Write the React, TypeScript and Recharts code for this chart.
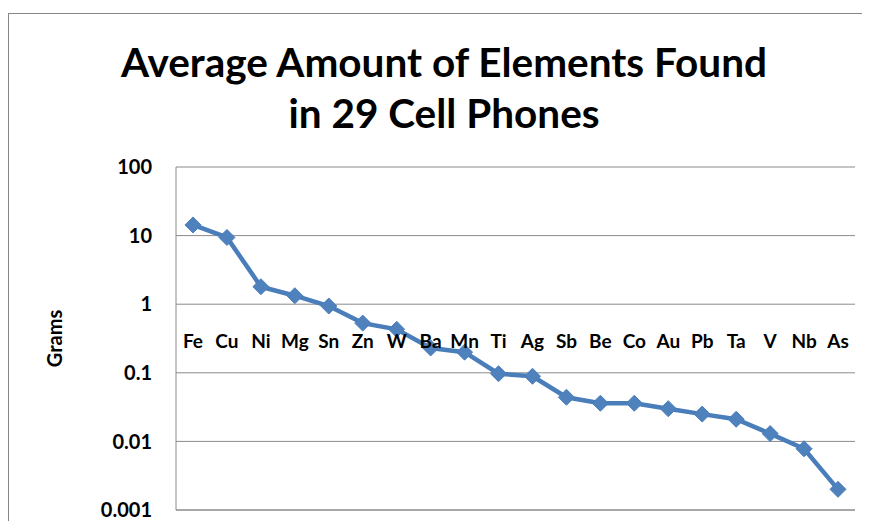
import React from 'react';
import { LineChart, Line, XAxis, YAxis, CartesianGrid } from 'recharts';

const elements = ['Fe', 'Cu', 'Ni', 'Mg', 'Sn', 'Zn', 'W', 'Ba', 'Mn', 'Ti', 'Ag', 'Sb', 'Be', 'Co', 'Au', 'Pb', 'Ta', 'V', 'Nb', 'As'];
const grams = [14.3, 9.4, 1.8, 1.33, 0.94, 0.53, 0.43, 0.23, 0.2, 0.097, 0.089, 0.044, 0.036, 0.036, 0.03, 0.025, 0.021, 0.013, 0.0078, 0.002];
const yTicks = [0.001, 0.01, 0.1, 1, 10, 100];

const chartData = elements.map((el, i) => ({ el, grams: grams[i] }));

const FONT = 'Lato, "Open Sans", sans-serif';
const BLUE = '#4A7EBB';
const GRID = '#8a8a8a';

// category labels sit up under the 1-gram line, like Excel's crossing axis
const LABEL_SHIFT = -178;

const ElementTick = (props: any) => {
  const { x, y, payload } = props;
  return (
    <text
      x={x}
      y={y + LABEL_SHIFT}
      textAnchor="middle"
      dominantBaseline="central"
      fontFamily={FONT}
      fontWeight="bold"
      fontSize={19}
      fill="#000"
    >
      {payload.value}
    </text>
  );
};

const Diamond = (props: any) => {
  const { cx, cy } = props;
  if (cx == null || cy == null) return null;
  const r = 8;
  return (
    <path
      d={`M${cx},${cy - r}L${cx + r},${cy}L${cx},${cy + r}L${cx - r},${cy}Z`}
      fill="#4F81BD"
      stroke={BLUE}
      strokeWidth={1}
    />
  );
};

const App: React.FC = () => {
  return (
    <div style={{ position: 'relative', width: 854, height: 513, overflow: 'hidden', background: '#fff' }}>
      <div
        style={{
          position: 'absolute',
          left: 0,
          top: 5,
          width: 900,
          height: 600,
          border: '1px solid #868686',
          boxSizing: 'border-box',
        }}
      />
      <div
        style={{
          position: 'absolute',
          left: 0,
          top: 28,
          width: 872,
          textAlign: 'center',
          fontFamily: FONT,
          fontWeight: 'bold',
          fontSize: 40.5,
          lineHeight: '51px',
          color: '#000',
        }}
      >
        Average Amount of Elements Found
        <br />
        in 29 Cell Phones
      </div>
      <div style={{ position: 'absolute', left: 0, top: 0 }}>
        <LineChart width={854} height={513} data={chartData} margin={{ top: 159, right: 7, bottom: 0, left: 0 }}>
          <CartesianGrid vertical={false} stroke={GRID} strokeWidth={1} />
          <XAxis
            dataKey="el"
            interval={0}
            axisLine={{ stroke: GRID }}
            tickLine={false}
            padding={{ left: 17, right: 17 }}
            tick={<ElementTick />}
            height={11}
          />
          <YAxis
            scale="log"
            domain={[0.001, 100]}
            ticks={yTicks}
            interval={0}
            allowDataOverflow
            width={168}
            axisLine={{ stroke: GRID }}
            tickLine={false}
            tickSize={0}
            tickMargin={24}
            tick={{ fontFamily: FONT, fontWeight: 'bold', fontSize: 20, fill: '#000' }}
            tickFormatter={(v: number) => String(v)}
            label={{
              value: 'Grams',
              angle: -90,
              position: 'insideLeft',
              offset: 47,
              style: { fontFamily: FONT, fontWeight: 'bold', fontSize: 20, fill: '#000', textAnchor: 'middle' },
            }}
          />
          <Line
            type="linear"
            dataKey="grams"
            stroke={BLUE}
            strokeWidth={4.5}
            dot={<Diamond />}
            activeDot={false}
            isAnimationActive={false}
          />
        </LineChart>
      </div>
    </div>
  );
};

export default App;
